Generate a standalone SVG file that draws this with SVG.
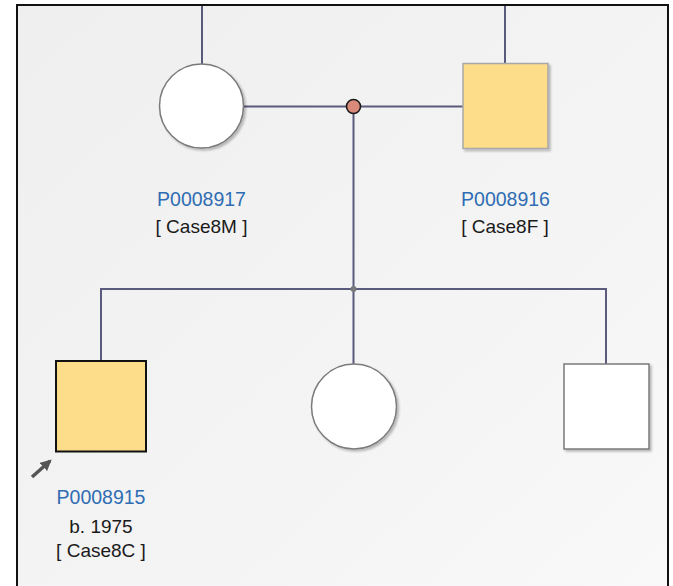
<svg xmlns="http://www.w3.org/2000/svg" width="673" height="586" viewBox="0 0 673 586">
  <defs>
    <linearGradient id="bg" x1="0" y1="0" x2="1" y2="1">
      <stop offset="0" stop-color="#efefef"/>
      <stop offset="0.5" stop-color="#f3f3f3"/>
      <stop offset="1" stop-color="#f9f9f9"/>
    </linearGradient>
    <filter id="sh" x="-10%" y="-10%" width="125%" height="125%">
      <feDropShadow dx="2" dy="2" stdDeviation="1" flood-color="#000" flood-opacity="0.25"/>
    </filter>
    <marker id="arr" viewBox="0 0 10 10" refX="8" refY="5" markerWidth="3.2" markerHeight="3.2" orient="auto">
      <path d="M0,0 L10,5 L0,10 z" fill="#555"/>
    </marker>
  </defs>
  <style>
    .ln { stroke: #5a5a7c; stroke-width: 2; fill: none; }
    .unaff { fill: #ffffff; stroke: #7a7a7a; stroke-width: 1.5; }
    .aff { fill: #fddc8a; stroke: #a8a8a8; stroke-width: 1.5; }
    .id { font-family: "Liberation Sans", Arial, sans-serif; font-size: 19.5px; fill: #2f6db3; text-anchor: middle; }
    .lbl { font-family: "Liberation Sans", Arial, sans-serif; font-size: 19px; fill: #1a1a1a; text-anchor: middle; }
  </style>
  <rect x="0" y="0" width="673" height="586" fill="#ffffff"/>
  <rect x="17" y="5" width="651" height="600" fill="url(#bg)" stroke="#111" stroke-width="2"/>

  <g id="connectors">
    <line class="ln" x1="202" y1="6" x2="202" y2="64"/>
    <line class="ln" x1="505" y1="6" x2="505" y2="63"/>
    <line class="ln" x1="244" y1="106.5" x2="463" y2="106.5"/>
    <line class="ln" x1="353.5" y1="106.5" x2="353.5" y2="364"/>
    <polyline class="ln" points="101,361 101,289 606,289 606,364"/>
    <circle cx="353.5" cy="289" r="3" fill="#7a7a7a"/>
    <circle cx="353.5" cy="106.5" r="7" fill="#d98a7b" stroke="#1a1a1a" stroke-width="1.6"/>
  </g>

  <g id="P0008917">
    <circle class="unaff" cx="201.5" cy="106" r="42" filter="url(#sh)"/>
    <text class="id" x="201.5" y="206">P0008917</text>
    <text class="lbl" x="201.5" y="233">[ Case8M ]</text>
  </g>

  <g id="P0008916">
    <rect class="aff" x="463" y="63.5" width="85" height="85" filter="url(#sh)"/>
    <text class="id" x="505.5" y="206">P0008916</text>
    <text class="lbl" x="505" y="233">[ Case8F ]</text>
  </g>

  <g id="P0008915">
    <rect x="56" y="361" width="90" height="90.5" fill="#fddc8a" stroke="#111" stroke-width="2"/>
    <line x1="32" y1="477" x2="50" y2="461" stroke="#555" stroke-width="3.5" marker-end="url(#arr)"/>
    <text class="id" x="101" y="504">P0008915</text>
    <text class="lbl" x="101" y="533">b. 1975</text>
    <text class="lbl" x="101" y="557">[ Case8C ]</text>
  </g>

  <g id="daughter">
    <circle class="unaff" cx="354" cy="406.5" r="42.5" filter="url(#sh)"/>
  </g>

  <g id="son">
    <rect class="unaff" x="564" y="364" width="85" height="85" filter="url(#sh)"/>
  </g>
</svg>
